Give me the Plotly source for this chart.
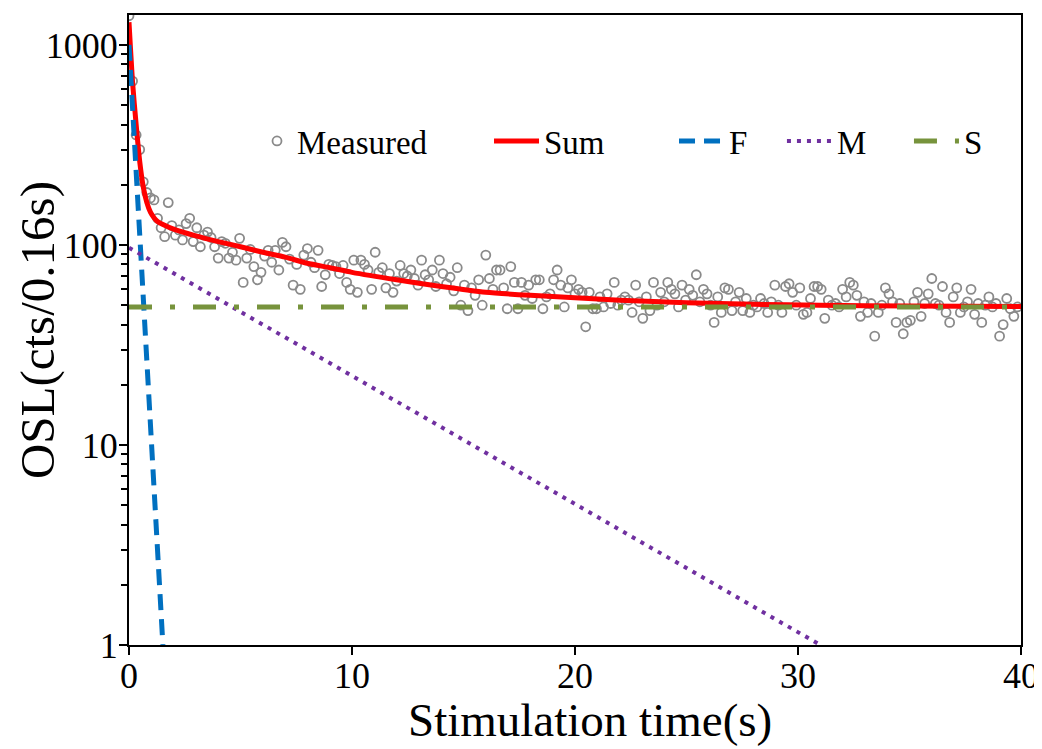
import plotly.graph_objects as go

# ---------------- data ----------------
time_step = 0.16
measured = [
    1400, 660, 355, 300, 207, 183, 172, 168, 136, 122,
    110, 163, 125, 112, 119, 106, 128, 136, 104, 122,
    98, 112, 116, 109, 98, 86, 104, 102, 86, 92,
    84, 108, 65, 86, 95, 78, 67, 73, 88, 94,
    82, 94, 75, 103, 98, 85, 63, 80, 60, 89,
    96, 82, 77, 94, 62, 71, 80, 79, 78, 72,
    79, 65, 60, 84, 58, 84, 80, 75, 60, 92,
    73, 77, 61, 72, 58, 66, 79, 72, 70, 75,
    68, 63, 84, 71, 67, 75, 62, 84, 72, 64,
    69, 59, 77, 50, 63, 47, 61, 56, 67, 50,
    89, 68, 60, 75, 75, 61, 48, 78, 65, 48,
    65, 56, 63, 54, 67, 67, 48, 55, 57, 67,
    75, 63, 49, 61, 67, 57, 60, 58, 39, 58,
    48, 48, 55, 49, 57, 51, 65, 50, 53, 55,
    53, 46, 63, 52, 43, 55, 47, 65, 50, 58,
    52, 65, 60, 57, 49, 63, 53, 60, 56, 71,
    52, 60, 57, 50, 41, 55, 46, 61, 60, 47,
    52, 58, 47, 54, 46, 50, 49, 54, 51, 46,
    52, 63, 50, 46, 62, 64, 58, 50, 61, 45,
    46, 54, 62, 62, 60, 43, 53, 50, 51, 49,
    60, 55, 65, 63, 56, 44, 52, 46, 51, 35,
    46, 50, 61, 57, 52, 41, 51, 36, 41, 42,
    52, 58, 44, 51, 57, 68, 51, 50, 62, 46,
    41, 55, 61, 46, 49, 52, 60, 45, 51, 41,
    50, 55, 49, 51, 35, 40, 54, 48, 44, 49,
]
measured_t = [round(time_step * i, 2) for i in range(len(measured))]

sum_t = [0, 0.16, 0.32, 0.48, 0.64, 0.8, 0.96, 1.12, 1.28, 1.5, 2, 3, 4, 5, 6,
         7, 8, 9, 10, 12, 14, 16, 18, 20, 22, 25, 28, 31, 35, 40]
sum_v = [1300, 650, 400, 262, 195, 163, 146, 137, 131, 127, 120, 111, 104, 98, 92,
         87, 81, 77, 73, 67, 62, 58, 56, 54.5, 53, 51.5, 50.5, 50, 49.5, 49.3]

fast_t = [0, 1.52]
fast_v = [1000, 1]
medium_t = [0, 31.0]
medium_v = [97, 1]
slow_t = [0, 40]
slow_v = [49, 49]

y_ticks = [1, 10, 100, 1000]
y_tick_text = ["1", "10", "100", "1000"]
y_minor = [m * d for d in (1, 10, 100, 1000) for m in range(2, 10)]
x_ticks = [0, 10, 20, 30, 40]

x_title = "Stimulation time(s)"
y_title = "OSL(cts/0.16s)"

# ---------------- figure ----------------
FONT = "Liberation Serif, Times New Roman, DejaVu Serif, serif"
fig = go.Figure()

fig.add_trace(go.Scatter(
    x=measured_t, y=measured, mode="markers", name="Measured", legend="legend",
    marker=dict(symbol="circle-open", size=9, color="#8a8a8a",
                line=dict(width=1.8, color="#8a8a8a")),
))
fig.add_trace(go.Scatter(
    x=sum_t, y=sum_v, mode="lines", name="Sum", legend="legend2",
    line=dict(color="#FF0000", width=5, shape="spline", smoothing=0.6),
))
fig.add_trace(go.Scatter(
    x=fast_t, y=fast_v, mode="lines", name="F", legend="legend3",
    line=dict(color="#0070C0", width=5, dash="16px,9px"),
))
fig.add_trace(go.Scatter(
    x=medium_t, y=medium_v, mode="lines", name="M", legend="legend4",
    line=dict(color="#7030A0", width=4, dash="4px,6px"),
))
fig.add_trace(go.Scatter(
    x=slow_t, y=slow_v, mode="lines", name="S", legend="legend5",
    line=dict(color="#77933C", width=5, dash="23px,18px,5px,18px"),
))

axis_common = dict(
    showline=True, linecolor="black", linewidth=2, mirror=True,
    ticks="outside", ticklen=8, tickwidth=2, tickcolor="black",
    showgrid=False, zeroline=False, automargin=False,
    tickfont=dict(family=FONT, size=36, color="black"),
)

fig.update_xaxes(
    range=[0, 40], tickvals=x_ticks, ticktext=[str(v) for v in x_ticks],
    ticklabelstandoff=-10,
    **axis_common,
)
fig.update_yaxes(
    type="log", range=[0, 3.15], tickvals=y_ticks, ticktext=y_tick_text,
    ticklabelstandoff=-6,
    minor=dict(tickvals=y_minor, ticks="outside", ticklen=6, tickwidth=1.5,
               tickcolor="black", showgrid=False),
    **axis_common,
)

fig.add_annotation(
    text=x_title, xref="paper", yref="paper", x=0.517, y=-0.1635,
    xanchor="center", yanchor="bottom", showarrow=False,
    font=dict(family=FONT, size=47, color="black"),
)
fig.add_annotation(
    text=y_title, xref="paper", yref="paper", x=-0.103, y=0.5,
    xanchor="center", yanchor="middle", showarrow=False, textangle=-90,
    font=dict(family=FONT, size=49, color="black"),
)

leg_font = dict(family=FONT, size=33, color="black")
leg_common = dict(orientation="h", y=0.80, xanchor="left", yanchor="middle",
                  bgcolor="rgba(0,0,0,0)", font=leg_font)

# page body has an 8px margin; the figure is sized so the plot area matches
fig.update_layout(
    width=1034, height=741,
    margin=dict(l=121, r=21, t=7, b=104),
    paper_bgcolor="white", plot_bgcolor="white",
    showlegend=True,
    legend=dict(x=0.1435, itemwidth=30, **leg_common),
    legend2=dict(x=0.4036, itemwidth=45, **leg_common),
    legend3=dict(x=0.611, itemwidth=45, **leg_common),
    legend4=dict(x=0.732, itemwidth=45, **leg_common),
    legend5=dict(x=0.8744, itemwidth=45, **leg_common),
)

fig.write_html("out.html")
